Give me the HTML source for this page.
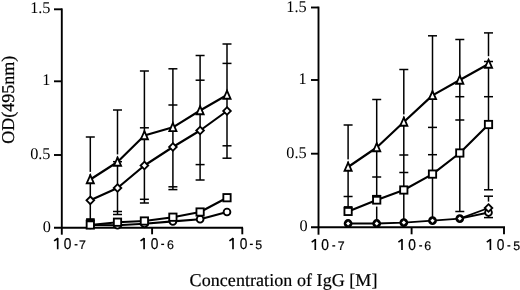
<!DOCTYPE html>
<html><head><meta charset="utf-8"><style>
html,body{margin:0;padding:0;background:#fff;}
body{width:520px;height:290px;overflow:hidden;}
svg{display:block;filter:grayscale(1);}
text{text-rendering:geometricPrecision;}
</style></head><body>
<svg width="520" height="290" viewBox="0 0 520 290">
<rect width="520" height="290" fill="#fff"/>
<g stroke="#000" stroke-linecap="butt">
<line x1="61.8" y1="8.4" x2="61.8" y2="234.7" stroke-width="1.9"/>
<line x1="54" y1="227.7" x2="243" y2="227.7" stroke-width="1.9"/>
<line x1="54" y1="9.3" x2="61.8" y2="9.3" stroke-width="1.9"/>
<line x1="54" y1="81.3" x2="61.8" y2="81.3" stroke-width="1.9"/>
<line x1="54" y1="155.0" x2="61.8" y2="155.0" stroke-width="1.9"/>
<line x1="152.1" y1="227.7" x2="152.1" y2="234.3" stroke-width="1.9"/>
<line x1="242.3" y1="227.7" x2="242.3" y2="234.3" stroke-width="1.9"/>
<line x1="90.3" y1="137" x2="90.3" y2="220.2" stroke-width="1.5"/>
<line x1="85.8" y1="137" x2="94.8" y2="137" stroke-width="1.5"/>
<line x1="85.8" y1="220.2" x2="94.8" y2="220.2" stroke-width="1.5"/>
<line x1="117.5" y1="110" x2="117.5" y2="214.5" stroke-width="1.5"/>
<line x1="113.0" y1="110" x2="122.0" y2="110" stroke-width="1.5"/>
<line x1="113.0" y1="161.7" x2="122.0" y2="161.7" stroke-width="1.5"/>
<line x1="113.0" y1="211.5" x2="122.0" y2="211.5" stroke-width="1.5"/>
<line x1="113.0" y1="214.5" x2="122.0" y2="214.5" stroke-width="1.5"/>
<line x1="144.4" y1="71" x2="144.4" y2="203" stroke-width="1.5"/>
<line x1="139.9" y1="71" x2="148.9" y2="71" stroke-width="1.5"/>
<line x1="139.9" y1="127.8" x2="148.9" y2="127.8" stroke-width="1.5"/>
<line x1="139.9" y1="199.3" x2="148.9" y2="199.3" stroke-width="1.5"/>
<line x1="139.9" y1="203" x2="148.9" y2="203" stroke-width="1.5"/>
<line x1="172.9" y1="68.8" x2="172.9" y2="189.6" stroke-width="1.5"/>
<line x1="168.4" y1="68.8" x2="177.4" y2="68.8" stroke-width="1.5"/>
<line x1="168.4" y1="105" x2="177.4" y2="105" stroke-width="1.5"/>
<line x1="168.4" y1="186.8" x2="177.4" y2="186.8" stroke-width="1.5"/>
<line x1="168.4" y1="189.6" x2="177.4" y2="189.6" stroke-width="1.5"/>
<line x1="200.1" y1="55.5" x2="200.1" y2="180" stroke-width="1.5"/>
<line x1="195.6" y1="55.5" x2="204.6" y2="55.5" stroke-width="1.5"/>
<line x1="195.6" y1="80.2" x2="204.6" y2="80.2" stroke-width="1.5"/>
<line x1="195.6" y1="164.6" x2="204.6" y2="164.6" stroke-width="1.5"/>
<line x1="195.6" y1="180" x2="204.6" y2="180" stroke-width="1.5"/>
<line x1="227.0" y1="44" x2="227.0" y2="158.2" stroke-width="1.5"/>
<line x1="222.5" y1="44" x2="231.5" y2="44" stroke-width="1.5"/>
<line x1="222.5" y1="63.4" x2="231.5" y2="63.4" stroke-width="1.5"/>
<line x1="222.5" y1="145.8" x2="231.5" y2="145.8" stroke-width="1.5"/>
<line x1="222.5" y1="158.2" x2="231.5" y2="158.2" stroke-width="1.5"/>
<polyline points="90.3,225 117.5,225.2 144.4,223.8 172.9,221.4 200.1,219.2 227.0,212" fill="none" stroke-width="2.15" stroke-linejoin="round"/>
<polyline points="90.3,225.0 117.5,222.2 144.4,221.0 172.9,217.2 200.1,212 227.0,197.7" fill="none" stroke-width="2.15" stroke-linejoin="round"/>
<polyline points="90.3,200.3 117.5,188 144.4,165.5 172.9,147 200.1,130.5 227.0,111" fill="none" stroke-width="2.15" stroke-linejoin="round"/>
<polyline points="90.3,179.5 117.5,162 144.4,135.5 172.9,127.3 200.1,110.5 227.0,95" fill="none" stroke-width="2.15" stroke-linejoin="round"/>
<circle cx="90.3" cy="225" r="3.4" fill="#fff" stroke-width="1.85"/>
<circle cx="117.5" cy="225.2" r="3.4" fill="#fff" stroke-width="1.85"/>
<circle cx="144.4" cy="223.8" r="3.4" fill="#fff" stroke-width="1.85"/>
<circle cx="172.9" cy="221.4" r="3.4" fill="#fff" stroke-width="1.85"/>
<circle cx="200.1" cy="219.2" r="3.4" fill="#fff" stroke-width="1.85"/>
<circle cx="227.0" cy="212" r="3.4" fill="#fff" stroke-width="1.85"/>
<rect x="86.64999999999999" y="221.35" width="7.3" height="7.3" fill="#fff" stroke-width="1.85"/>
<rect x="113.85" y="218.54999999999998" width="7.3" height="7.3" fill="#fff" stroke-width="1.85"/>
<rect x="140.75" y="217.35" width="7.3" height="7.3" fill="#fff" stroke-width="1.85"/>
<rect x="169.25" y="213.54999999999998" width="7.3" height="7.3" fill="#fff" stroke-width="1.85"/>
<rect x="196.45" y="208.35" width="7.3" height="7.3" fill="#fff" stroke-width="1.85"/>
<rect x="223.35" y="194.04999999999998" width="7.3" height="7.3" fill="#fff" stroke-width="1.85"/>
<polygon points="90.3,196.5 94.1,200.3 90.3,204.10000000000002 86.5,200.3" fill="#fff" stroke-width="1.85"/>
<polygon points="117.5,184.2 121.3,188 117.5,191.8 113.7,188" fill="#fff" stroke-width="1.85"/>
<polygon points="144.4,161.7 148.20000000000002,165.5 144.4,169.3 140.6,165.5" fill="#fff" stroke-width="1.85"/>
<polygon points="172.9,143.2 176.70000000000002,147 172.9,150.8 169.1,147" fill="#fff" stroke-width="1.85"/>
<polygon points="200.1,126.7 203.9,130.5 200.1,134.3 196.29999999999998,130.5" fill="#fff" stroke-width="1.85"/>
<polygon points="227.0,107.2 230.8,111 227.0,114.8 223.2,111" fill="#fff" stroke-width="1.85"/>
<rect x="86.1" y="218.2" width="8.6" height="3.4" fill="#000" stroke="none"/>
<rect x="88.70" y="171.90" width="3.2" height="2.2" fill="#fff" stroke="none"/>
<rect x="115.90" y="154.40" width="3.2" height="2.2" fill="#fff" stroke="none"/>
<polygon points="90.30,175.20 93.85,183.25 86.75,183.25" fill="#fff" stroke-width="1.85" stroke-linejoin="miter"/>
<polygon points="117.50,157.70 121.05,165.75 113.95,165.75" fill="#fff" stroke-width="1.85" stroke-linejoin="miter"/>
<polygon points="144.40,131.20 147.95,139.25 140.85,139.25" fill="#fff" stroke-width="1.85" stroke-linejoin="miter"/>
<polygon points="172.90,123.00 176.45,131.05 169.35,131.05" fill="#fff" stroke-width="1.85" stroke-linejoin="miter"/>
<polygon points="200.10,106.20 203.65,114.25 196.55,114.25" fill="#fff" stroke-width="1.85" stroke-linejoin="miter"/>
<polygon points="227.00,90.70 230.55,98.75 223.45,98.75" fill="#fff" stroke-width="1.85" stroke-linejoin="miter"/>
<line x1="318.5" y1="6.6" x2="318.5" y2="234.7" stroke-width="1.9"/>
<line x1="311" y1="227.2" x2="505" y2="227.2" stroke-width="1.9"/>
<line x1="311" y1="7.5" x2="318.5" y2="7.5" stroke-width="1.9"/>
<line x1="311" y1="80.0" x2="318.5" y2="80.0" stroke-width="1.9"/>
<line x1="311" y1="153.7" x2="318.5" y2="153.7" stroke-width="1.9"/>
<line x1="411.6" y1="227.2" x2="411.6" y2="234.3" stroke-width="1.9"/>
<line x1="504.0" y1="227.2" x2="504.0" y2="234.3" stroke-width="1.9"/>
<line x1="348.1" y1="125" x2="348.1" y2="207" stroke-width="1.5"/>
<line x1="343.6" y1="125" x2="352.6" y2="125" stroke-width="1.5"/>
<line x1="343.6" y1="196.5" x2="352.6" y2="196.5" stroke-width="1.5"/>
<line x1="376.7" y1="99.5" x2="376.7" y2="196" stroke-width="1.5"/>
<line x1="376.7" y1="206.6" x2="376.7" y2="220" stroke-width="1.5"/>
<line x1="372.2" y1="99.5" x2="381.2" y2="99.5" stroke-width="1.5"/>
<line x1="372.2" y1="177" x2="381.2" y2="177" stroke-width="1.5"/>
<line x1="372.2" y1="195.8" x2="381.2" y2="195.8" stroke-width="1.5"/>
<line x1="403.8" y1="69.5" x2="403.8" y2="222" stroke-width="1.5"/>
<line x1="399.3" y1="69.5" x2="408.3" y2="69.5" stroke-width="1.5"/>
<line x1="399.3" y1="155" x2="408.3" y2="155" stroke-width="1.5"/>
<line x1="399.3" y1="172.5" x2="408.3" y2="172.5" stroke-width="1.5"/>
<line x1="432.5" y1="35.8" x2="432.5" y2="220" stroke-width="1.5"/>
<line x1="428.0" y1="35.8" x2="437.0" y2="35.8" stroke-width="1.5"/>
<line x1="428.0" y1="127.4" x2="437.0" y2="127.4" stroke-width="1.5"/>
<line x1="428.0" y1="154.7" x2="437.0" y2="154.7" stroke-width="1.5"/>
<line x1="459.8" y1="39.5" x2="459.8" y2="211.5" stroke-width="1.5"/>
<line x1="455.3" y1="39.5" x2="464.3" y2="39.5" stroke-width="1.5"/>
<line x1="455.3" y1="96.7" x2="464.3" y2="96.7" stroke-width="1.5"/>
<line x1="455.3" y1="120" x2="464.3" y2="120" stroke-width="1.5"/>
<line x1="455.3" y1="211.5" x2="464.3" y2="211.5" stroke-width="1.5"/>
<line x1="488.5" y1="32.9" x2="488.5" y2="56.5" stroke-width="1.5"/>
<line x1="488.5" y1="61.5" x2="488.5" y2="189.8" stroke-width="1.5"/>
<line x1="488.5" y1="196.2" x2="488.5" y2="201.6" stroke-width="1.5"/>
<line x1="488.5" y1="214" x2="488.5" y2="217.6" stroke-width="1.5"/>
<line x1="484.0" y1="32.9" x2="493.0" y2="32.9" stroke-width="1.5"/>
<line x1="484.0" y1="61.5" x2="493.0" y2="61.5" stroke-width="1.5"/>
<line x1="484.0" y1="96.7" x2="493.0" y2="96.7" stroke-width="1.5"/>
<line x1="484.0" y1="189.8" x2="493.0" y2="189.8" stroke-width="1.5"/>
<line x1="484.0" y1="196.2" x2="493.0" y2="196.2" stroke-width="1.5"/>
<line x1="484.0" y1="217.6" x2="493.0" y2="217.6" stroke-width="1.5"/>
<polyline points="348.1,223.5 376.7,223.5 403.8,222.6 432.5,220.7 459.8,218.6 488.5,212.5" fill="none" stroke-width="1.8" stroke-linejoin="round"/>
<polyline points="459.8,218.6 488.5,208.0" fill="none" stroke-width="1.8" stroke-linejoin="round"/>
<polyline points="348.1,211.4 376.7,200 403.8,190 432.5,174.1 459.8,153 488.5,124.5" fill="none" stroke-width="2.15" stroke-linejoin="round"/>
<polyline points="348.1,167 376.7,147.5 403.8,122 432.5,95.4 459.8,80 488.5,64" fill="none" stroke-width="2.15" stroke-linejoin="round"/>
<circle cx="348.1" cy="223.5" r="3.15" fill="#fff" stroke-width="2.5"/>
<polygon points="348.1,220.6 351.0,223.5 348.1,226.4 345.20000000000005,223.5" fill="#fff" stroke-width="1.15"/>
<circle cx="376.7" cy="223.5" r="3.15" fill="#fff" stroke-width="2.5"/>
<polygon points="376.7,220.6 379.59999999999997,223.5 376.7,226.4 373.8,223.5" fill="#fff" stroke-width="1.15"/>
<circle cx="403.8" cy="222.6" r="3.15" fill="#fff" stroke-width="2.5"/>
<polygon points="403.8,219.7 406.7,222.6 403.8,225.5 400.90000000000003,222.6" fill="#fff" stroke-width="1.15"/>
<circle cx="432.5" cy="220.7" r="3.15" fill="#fff" stroke-width="2.5"/>
<polygon points="432.5,217.79999999999998 435.4,220.7 432.5,223.6 429.6,220.7" fill="#fff" stroke-width="1.15"/>
<circle cx="459.8" cy="218.6" r="3.15" fill="#fff" stroke-width="2.5"/>
<polygon points="459.8,215.7 462.7,218.6 459.8,221.5 456.90000000000003,218.6" fill="#fff" stroke-width="1.15"/>
<circle cx="488.5" cy="212.5" r="3.4" fill="#fff" stroke-width="1.85"/>
<polygon points="488.5,204.2 492.3,208.0 488.5,211.8 484.7,208.0" fill="#fff" stroke-width="1.85"/>
<rect x="344.45000000000005" y="207.75" width="7.3" height="7.3" fill="#fff" stroke-width="1.85"/>
<rect x="373.05" y="196.35" width="7.3" height="7.3" fill="#fff" stroke-width="1.85"/>
<rect x="400.15000000000003" y="186.35" width="7.3" height="7.3" fill="#fff" stroke-width="1.85"/>
<rect x="428.85" y="170.45" width="7.3" height="7.3" fill="#fff" stroke-width="1.85"/>
<rect x="456.15000000000003" y="149.35" width="7.3" height="7.3" fill="#fff" stroke-width="1.85"/>
<rect x="484.85" y="120.85" width="7.3" height="7.3" fill="#fff" stroke-width="1.85"/>
<rect x="343.9" y="206.1" width="8.6" height="2.3" fill="#000" stroke="none"/>
<rect x="372.3" y="194.9" width="8.7" height="2.7" fill="#000" stroke="none"/>
<rect x="346.50" y="159.40" width="3.2" height="2.2" fill="#fff" stroke="none"/>
<rect x="402.20" y="114.40" width="3.2" height="2.2" fill="#fff" stroke="none"/>
<rect x="486.90" y="56.40" width="3.2" height="2.2" fill="#fff" stroke="none"/>
<polygon points="348.10,162.70 351.65,170.75 344.55,170.75" fill="#fff" stroke-width="1.85" stroke-linejoin="miter"/>
<polygon points="376.70,143.20 380.25,151.25 373.15,151.25" fill="#fff" stroke-width="1.85" stroke-linejoin="miter"/>
<polygon points="403.80,117.70 407.35,125.75 400.25,125.75" fill="#fff" stroke-width="1.85" stroke-linejoin="miter"/>
<polygon points="432.50,91.10 436.05,99.15 428.95,99.15" fill="#fff" stroke-width="1.85" stroke-linejoin="miter"/>
<polygon points="459.80,75.70 463.35,83.75 456.25,83.75" fill="#fff" stroke-width="1.85" stroke-linejoin="miter"/>
<polygon points="488.50,59.70 492.05,67.75 484.95,67.75" fill="#fff" stroke-width="1.85" stroke-linejoin="miter"/>
</g>
<text x="50.5" y="13.0" font-family="'Liberation Serif', serif" fill="#000" font-size="16.3" text-anchor="end">1.5</text>
<text x="50.5" y="85.0" font-family="'Liberation Serif', serif" fill="#000" font-size="16.3" text-anchor="end">1</text>
<text x="50.5" y="159.4" font-family="'Liberation Serif', serif" fill="#000" font-size="16.3" text-anchor="end">0.5</text>
<text x="50.8" y="231.6" font-family="'Liberation Serif', serif" fill="#000" font-size="16.3" text-anchor="end">0</text>
<text x="306.6" y="11.5" font-family="'Liberation Serif', serif" fill="#000" font-size="16.3" text-anchor="end">1.5</text>
<text x="306.6" y="84.0" font-family="'Liberation Serif', serif" fill="#000" font-size="16.3" text-anchor="end">1</text>
<text x="306.6" y="157.9" font-family="'Liberation Serif', serif" fill="#000" font-size="16.3" text-anchor="end">0.5</text>
<text x="307.6" y="231.0" font-family="'Liberation Serif', serif" fill="#000" font-size="16.3" text-anchor="end">0</text>
<path d="M57.70,249.20V237.90M58.00,238.20L54.10,240.90" stroke="#000" stroke-width="1.65" fill="none"/><text transform="translate(63.76,249.20) scale(0.88,1)" font-family="'Liberation Sans', sans-serif" fill="#000" font-size="15.6" stroke="#000" stroke-width="0.25">0</text><rect x="74.60" y="244.10" width="2.9" height="1.35" fill="#000"/><text x="78.97" y="248.70" font-family="'Liberation Sans', sans-serif" fill="#000" font-size="12.4" stroke="#000" stroke-width="0.2">7</text>
<path d="M144.10,249.20V237.90M144.40,238.20L140.50,240.90" stroke="#000" stroke-width="1.65" fill="none"/><text transform="translate(150.66,249.20) scale(0.88,1)" font-family="'Liberation Sans', sans-serif" fill="#000" font-size="15.6" stroke="#000" stroke-width="0.25">0</text><rect x="161.20" y="243.70" width="2.9" height="1.35" fill="#000"/><text x="166.97" y="248.70" font-family="'Liberation Sans', sans-serif" fill="#000" font-size="12.4" stroke="#000" stroke-width="0.2">6</text>
<path d="M233.00,249.20V237.90M233.30,238.20L229.40,240.90" stroke="#000" stroke-width="1.65" fill="none"/><text transform="translate(239.66,249.20) scale(0.88,1)" font-family="'Liberation Sans', sans-serif" fill="#000" font-size="15.6" stroke="#000" stroke-width="0.25">0</text><rect x="249.90" y="243.70" width="2.9" height="1.35" fill="#000"/><text x="255.37" y="248.70" font-family="'Liberation Sans', sans-serif" fill="#000" font-size="12.4" stroke="#000" stroke-width="0.2">5</text>
<path d="M315.30,250.10V239.10M315.60,239.40L311.70,242.10" stroke="#000" stroke-width="1.65" fill="none"/><text transform="translate(321.36,250.10) scale(0.88,1)" font-family="'Liberation Sans', sans-serif" fill="#000" font-size="15.6" stroke="#000" stroke-width="0.25">0</text><rect x="332.30" y="245.20" width="2.9" height="1.35" fill="#000"/><text x="337.77" y="249.70" font-family="'Liberation Sans', sans-serif" fill="#000" font-size="12.4" stroke="#000" stroke-width="0.2">7</text>
<path d="M402.00,250.10V239.10M402.30,239.40L398.40,242.10" stroke="#000" stroke-width="1.65" fill="none"/><text transform="translate(408.36,250.10) scale(0.88,1)" font-family="'Liberation Sans', sans-serif" fill="#000" font-size="15.6" stroke="#000" stroke-width="0.25">0</text><rect x="419.20" y="245.20" width="2.9" height="1.35" fill="#000"/><text x="424.37" y="249.70" font-family="'Liberation Sans', sans-serif" fill="#000" font-size="12.4" stroke="#000" stroke-width="0.2">6</text>
<path d="M490.40,250.10V239.10M490.70,239.40L486.80,242.10" stroke="#000" stroke-width="1.65" fill="none"/><text transform="translate(496.76,250.10) scale(0.88,1)" font-family="'Liberation Sans', sans-serif" fill="#000" font-size="15.6" stroke="#000" stroke-width="0.25">0</text><rect x="507.40" y="245.20" width="2.9" height="1.35" fill="#000"/><text x="513.17" y="249.70" font-family="'Liberation Sans', sans-serif" fill="#000" font-size="12.4" stroke="#000" stroke-width="0.2">5</text>
<text x="189.6" y="285.9" font-family="'Liberation Serif', serif" fill="#000" font-size="18" letter-spacing="0.06" stroke="#000" stroke-width="0.2">Concentration of IgG [M]</text>
<text transform="translate(13.8,143.8) rotate(-90)" x="0" y="0" font-family="'Liberation Serif', serif" fill="#000" font-size="18" stroke="#000" stroke-width="0.25">OD(495nm)</text>
</svg>
</body></html>
